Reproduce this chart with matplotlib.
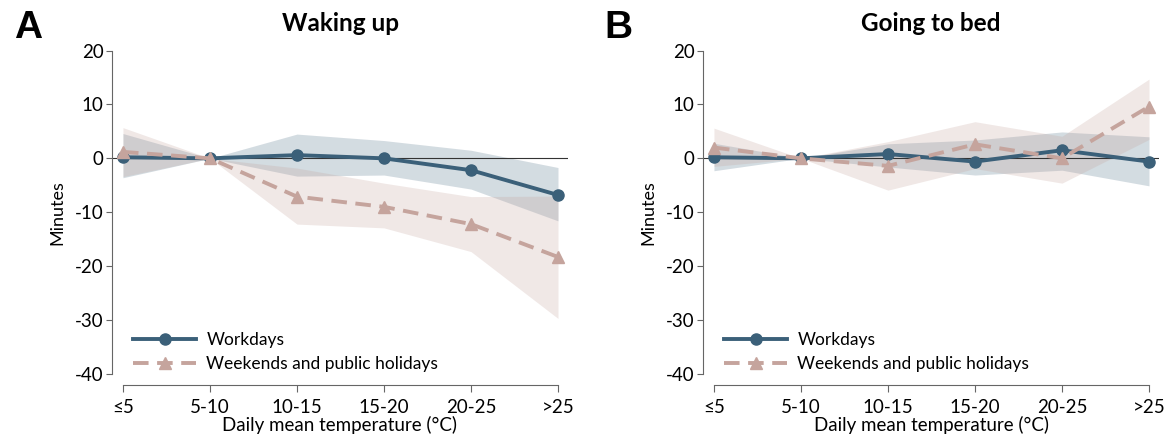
import numpy as np
import matplotlib
matplotlib.use("Agg")
from matplotlib import pyplot as plt

plt.rcParams['font.family'] = ['Lato', 'DejaVu Sans']
plt.rcParams['axes.unicode_minus'] = False

# data
cats = ['≤5', '5-10', '10-15', '15-20', '20-25', '>25']

wake_work = [0.2, 0, 0.6, 0, -2.2, -6.8]
wake_work_lo = [-3.6, 0, -3.3, -3.1, -5.7, -11.6]
wake_work_hi = [4.6, 0, 4.5, 3.3, 1.5, -1.7]
wake_week = [1.2, 0, -7.1, -9.0, -12.2, -18.3]
wake_week_lo = [-3.4, 0, -12.2, -12.9, -17.3, -29.7]
wake_week_hi = [5.7, 0, -1.8, -4.6, -7.1, -7.0]

bed_work = [0.2, 0, 0.8, -0.6, 1.5, -0.6]
bed_work_lo = [-2.3, 0, -1.6, -3.1, -2.2, -5.1]
bed_work_hi = [2.8, 0, 2.7, 3.4, 4.9, 4.0]
bed_week = [2.0, 0, -1.4, 2.6, 0.0, 9.6]
bed_week_lo = [-1.5, 0, -5.9, -1.9, -4.6, 3.5]
bed_week_hi = [5.6, 0, 3.1, 6.8, 4.1, 14.7]

blue = '#3b6079'
pink = '#c5a49d'

fig = plt.figure(figsize=(11.76, 4.37), dpi=100)
axA = fig.add_axes([112/1176, 52/437, 456/1176, 335/437])
axB = fig.add_axes([703/1176, 52/437, 456/1176, 335/437])

x = np.arange(len(cats))

def panel(ax, work, wlo, whi, week, klo, khi, title, letter):
    ax.fill_between(x, wlo, whi, color=blue, alpha=0.22, lw=0, zorder=1)
    ax.fill_between(x, klo, khi, color=pink, alpha=0.25, lw=0, zorder=1)
    ax.axhline(0, color='#333333', lw=0.8, zorder=2)
    ax.plot(x, work, color=blue, lw=2.8, marker='o', ms=8, zorder=3, label='Workdays')
    ax.plot(x, week, color=pink, lw=2.8, marker='^', ms=9, ls=(0, (4, 2.2)),
            zorder=4, label='Weekends and public holidays')
    ax.set_xlim(-0.126, 5.115)
    ax.set_ylim(-42.05, 20.1)
    ax.set_yticks([20, 10, 0, -10, -20, -30, -40])
    ax.set_xticks(x)
    ax.set_xticklabels(cats)
    for s in ['top', 'right']:
        ax.spines[s].set_visible(False)
    ax.spines['left'].set_bounds(-40, 20)
    ax.spines['bottom'].set_bounds(0, 5)
    ax.spines['left'].set_color('#666666')
    ax.spines['bottom'].set_color('#666666')
    ax.tick_params(axis='y', length=4, color='#666666', labelsize=13.5, pad=2)
    ax.tick_params(axis='x', length=5, color='#666666', labelsize=13.5, pad=5)
    ax.text(-0.12, 0.516, 'Minutes', transform=ax.transAxes, rotation=90,
            ha='center', va='center', fontsize=13)
    ax.text(0.5, -0.118, 'Daily mean temperature (°C)', transform=ax.transAxes,
            ha='center', va='center', fontsize=13.5)
    ax.text(0.5, 1.08, title, transform=ax.transAxes, ha='center', va='center',
            fontsize=17.5, fontweight='bold')
    ax.text(-0.185, 1.065, letter, transform=ax.transAxes, ha='center', va='center',
            fontsize=28, fontweight='bold', family='Liberation Sans')
    ax.legend(loc='lower left', bbox_to_anchor=(0.028, 0.012), frameon=False,
              fontsize=12.5, handlelength=3.6, handletextpad=0.6, borderpad=0,
              labelspacing=0.45)

panel(axA, wake_work, wake_work_lo, wake_work_hi, wake_week, wake_week_lo, wake_week_hi,
      'Waking up', 'A')
panel(axB, bed_work, bed_work_lo, bed_work_hi, bed_week, bed_week_lo, bed_week_hi,
      'Going to bed', 'B')

plt.savefig('out.png', dpi=100)
